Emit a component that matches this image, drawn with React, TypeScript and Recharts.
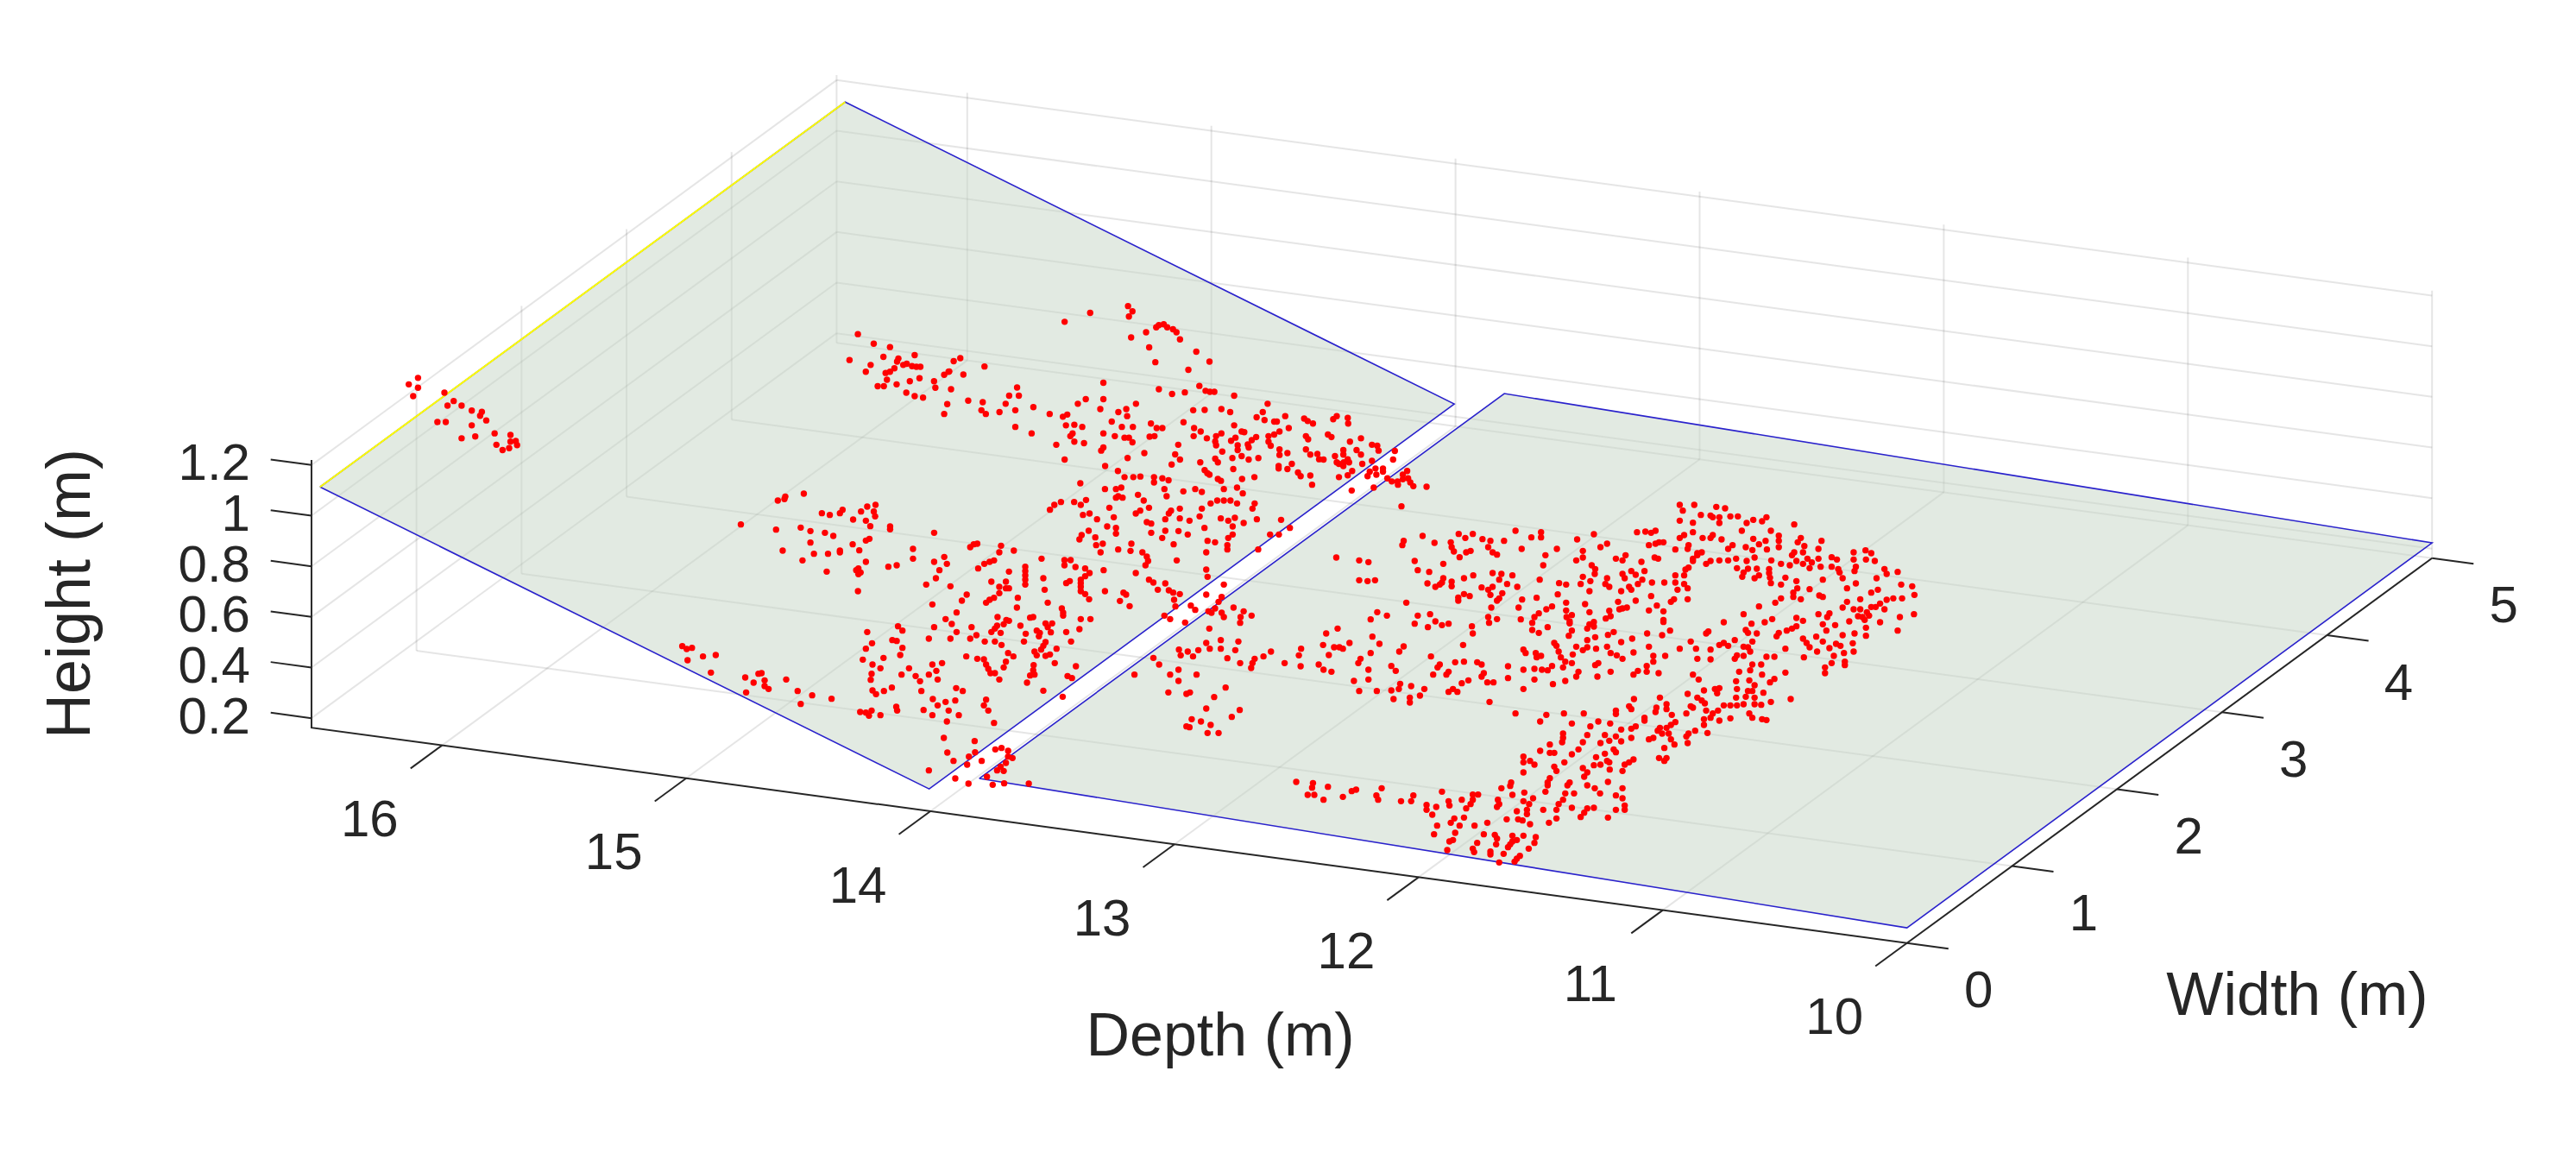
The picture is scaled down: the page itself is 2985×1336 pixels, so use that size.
import { Scatter, ScatterChart, XAxis, YAxis } from 'recharts'

// tick values of the three axes
const depthTicks = [10, 11, 12, 13, 14, 15, 16]
const widthTicks = [0, 1, 2, 3, 4, 5]
const heightTicks = [0.2, 0.4, 0.6, 0.8, 1, 1.2]

const depthMax = 16.535
const widthMax = 5
const heightMin = 0.1625
const heightMax = 1.22

// the two floor patches: [depth, width, height] corners
const rampCorners = [
  [16.5, 0, 1.118],
  [16.5, 5, 1.118],
  [14.005, 5, 0.25],
  [14.005, 0, 0.25],
]
const floorCorners = [
  [13.8, 0, 0.318],
  [13.8, 5, 0.318],
  [10, 5, 0.223],
  [10, 0, 0.223],
]

// red points, in view units of the source crop they were read from
const stragglerPoints = [
  [283,1058],[262,1079],[283,1090],[272,1117],[343,1106],[364,1133],[350,1148],[382,1148],[405,1164],[428,1168],[424,1181],[438,1196],[327,1201],[346,1201],[405,1212],[457,1238],[493,1243],[413,1248],[382,1254],[505,1263],[493,1265],[508,1276],[461,1275],[490,1286],[475,1292],
  [1282,916],[1318,947],[1355,958],[1411,984],[1340,990],[1263,1000],[1374,995],[1371,1005],[1311,1016],[1385,1016],[1393,1012],[1405,1020],[1415,1022],[1424,1022],[1300,1038],[1345,1042],[1355,1038],[1365,1027],[1488,1038],[1478,1048],[1348,1064],[1400,1069],[1422,1059],[1455,1069],[1327,1085],[1341,1085],[1370,1079],[1458,1090],[1392,1106],[1411,1117],[1430,1122],[1485,1143],[1478,1175],
]
const rampTopPoints = [
  [406,153],[416,170],[408,187],[320,175],[262,204],[476,215],[487,212],[470,222],[495,222],[508,228],[516,238],[524,261],[447,238],[413,255],[454,287],[561,301],[591,333],[468,335],[543,360],[25,322],[10,332],[80,349],[0,365],[32,375],[350,402],[154,417],[4,423],[568,412],[476,423],[582,428],[592,431],[602,431],[535,433],[506,438],[647,444],[136,444],[158,444],[350,455],[310,455],[43,460],[76,465],[128,470],[292,470],[424,470],[723,470],[191,481],[343,487],[402,487],[580,490],[618,487],[554,491],[73,491],[83,503],[114,497],[150,491],[384,497],[638,497],[712,497],[228,503],[268,505],[258,512],[404,510],[698,514],[716,523],[763,510],[806,518],[880,510],[872,520],[905,516],[906,534],[369,528],[532,530],[458,534],[738,528],[744,528],[826,534],[814,526],[265,540],[284,538],[302,545],[392,545],[417,545],[150,545],[484,549],[471,549],[556,549],[647,540],[771,549],[187,566],[350,566],[571,560],[618,566],[606,575],[664,560],[670,562],[750,560],[738,570],[725,575],[280,566],[275,575],[376,575],[398,580],[408,580],[416,595],[466,575],[455,577],[810,575],[815,585],[860,570],[868,578],[935,582],[910,593],[555,575],[585,582],[604,592],[640,590],[650,580],[697,578],[687,588],[678,602],[725,593],[730,606],[243,603],[284,593],[306,598],[520,603],[606,605],[655,605],[960,603],[972,606],[350,612],[345,622],[443,630],[655,620],[620,625],[680,612],[750,618],[768,630],[810,618],[750,636],[820,635],[836,633],[895,620],[925,620],[1012,623],[975,622],[513,634],[895,635],[935,635],[405,646],[524,651],[604,648],[643,646],[680,651],[702,646],[840,650],[850,651],[876,640],[1008,651],[262,651],[664,640],[905,650],[570,660],[610,660],[505,667],[880,660],[885,665],[896,660],[908,660],[938,665],[960,655],[778,665],[748,672],[748,680],[354,672],[895,672],[968,680],[985,680],[768,682],[645,682],[580,685],[586,695],[591,700],[792,693],[798,705],[383,688],[915,688],[1040,688],[955,690],[985,690],[1030,700],[820,703],[693,708],[885,708],[665,714],[398,708],[418,708],[434,706],[465,708],[484,712],[498,718],[465,725],[610,714],[617,720],[905,702],[950,705],[970,700],[995,712],[1005,722],[1018,722],[1030,715],[1042,712],[1047,725],
]
const rampLowPoints = [
  [336,36],[277,60],[294,46],[292,55],[193,143],[377,104],[395,110],[424,92],[418,104],[480,81],[499,75],[466,98],[495,98],[498,115],[448,126],[477,130],[487,149],[532,150],[532,160],[273,161],[329,154],[351,166],[384,172],[403,183],[632,172],[485,193],[477,199],[351,206],[447,212],[730,210],[722,212],[714,222],[784,217],[288,234],[359,245],[391,245],[418,234],[462,233],[584,228],[780,240],[813,234],[333,268],[418,240],[584,262],[655,256],[632,273],[661,280],[768,268],[758,273],[746,280],[477,273],[528,290],[547,285],[644,302],[732,296],[876,262],[928,267],[942,267],[928,285],[953,291],[975,296],[1017,302],[388,307],[460,296],[455,302],[465,310],[460,316],[802,307],[839,290],[839,305],[839,320],[839,335],[985,312],[975,323],[880,330],[636,330],[614,352],[669,358],[762,342],[795,342],[839,352],[780,360],[795,365],[802,365],[940,340],[932,347],[965,335],[965,347],[965,360],[883,370],[965,375],[975,385],[459,375],[706,387],[1020,375],[1062,380],[1068,387],[780,382],[822,398],[768,398],[758,405],[750,415],[984,403],[890,415],[695,408],[628,421],[1054,409],[1076,427],[820,432],[922,435],[925,450],[683,449],[658,472],[776,465],[796,475],[790,490],[802,478],[850,467],[857,465],[925,460],[965,472],[987,472],[672,489],[632,500],[717,500],[550,497],[560,512],[828,495],[885,487],[900,487],[890,500],[775,495],[770,505],[762,517],[480,517],[962,507],[683,517],[897,518],[865,512],[872,520],[932,517],[840,523],[783,520],[728,528],[870,532],[620,540],[669,540],[714,540],[537,545],[547,548],[491,556],[747,550],[770,550],[836,550],[943,550],[785,562],[885,552],[880,565],[560,572],[477,575],[910,575],[875,578],[705,602],[730,610],[745,612],[555,597],[860,585],[865,598],[800,590],[812,602],[885,600],[895,595],[470,613],[517,607],[795,620],[906,625],[492,630],[650,625],[628,630],[750,630],[510,643],[575,643],[755,645],[790,640],[858,632],[857,650],[954,636],[490,662],[558,665],[620,665],[637,652],[760,660],[770,660],[590,670],[850,668],[860,665],[640,682],[600,688],[488,683],[780,682],[935,670],[945,677],[843,693],[536,710],[492,720],[500,733],[518,722],[603,722],[682,712],[697,722],[880,721],[629,750],[658,760],[680,755],[750,752],[924,742],[640,772],[745,772],[546,777],[548,790],[608,788],[755,790],[464,795],[477,797],[490,790],[484,808],[510,806],[628,806],[665,790],[688,806],[661,828],[768,833],[654,885],[724,896],[662,936],[771,925],[785,920],[800,930],[810,955],[800,950],[725,935],[711,950],[676,965],[707,978],[740,965],[795,972],[783,985],[775,998],[790,1000],[620,998],[680,1026],[710,1044],[752,1020],[765,1048],[791,1043],[847,1044],
  [60,566],[70,576],[82,572],[72,615],[107,602],[136,597],[125,658],[203,675],[233,662],[240,660],[222,693],[247,685],[247,705],[256,715],[296,682],[205,727],[322,722],[355,737],[399,749],[329,767],
  [1290,352],[1250,387],[1285,395],[1278,412],[1270,435],[1215,425],[1225,440],[1180,428],[1155,460],[1168,472],[1202,484],[1250,300],[1253,325],[1140,370],[1157,348],[1165,372],[1175,380],[1190,385],[1177,405],[1120,335],[1130,345],[1090,312],[1115,255],[1118,270],[1112,285],[1105,240],[1183,268],[1250,240],[1255,445],[1262,450],[1285,450],[1290,465],[1312,432],[1335,445],[1353,460],[1328,465],[1327,485],[1257,505],
  [964,0],[1020,20],[1045,20],[1057,15],[1050,45],[1095,40],[1108,60],[1160,45],[1155,20],[1198,28],[1225,20],[1240,30],[1290,20],[1320,15],[1333,35],[1045,50],[1060,50],[950,65],[920,65],[905,75],[895,92],[965,75],[977,58],[1030,85],[1120,85],[1100,95],[1090,105],[1170,95],[1190,88],[1240,88],[1260,70],[1275,60],[1290,60],[1305,60],[1320,70],[1360,70],[1355,88],[1165,105],[985,105],[970,110],[1002,125],[1040,118],[1157,125],[1190,122],[1212,130],[1235,115],[1283,122],[1300,130],[1315,120],[1365,125],[1420,127],[1025,150],[1125,140],[1115,135],[1246,155],[1335,138],[1310,150],[1045,155],[1045,175],[983,165],[967,180],[962,195],[1125,172],[1157,165],[1187,166],[1208,178],[1310,178],[1300,190],[1395,178],[1415,178],[1440,155],[998,188],[1000,215],[1015,210],[1150,190],[1253,200],[1270,205],[1176,212],[1080,210],[1298,215],[1050,230],[1078,235],[1010,240],[1298,230],[1368,230],
  [1188,578],[1192,598],[1208,585],[1220,602],[1232,580],[1250,555],[1258,575],[1283,545],[1283,575],[1323,550],[1316,580],[1298,608],[1327,625],[1397,585],[1380,602],[1360,610],[1355,625],[1352,642],[1428,625],[1130,607],[1143,630],[1087,665],[1168,665],[1187,648],[1228,665],[1187,687],[1164,727],[1205,732],[1213,727],[1294,710],[1268,743],[1250,783],[1326,788],[1308,812],[1217,820],[1238,828],[1260,840],[1212,848],[1205,845],[1253,868],[1278,868],
]
const floorPoints = [
  [40,5],[130,25],[180,15],[235,5],[270,10],[300,12],[243,80],
  [875,75],[908,75],[882,95],[958,82],[978,87],[945,112],[965,118],[923,110],[990,115],[1007,115],[1042,127],[1072,118],[1062,132],[875,130],[905,137],[950,118],[965,138],[1027,138],[1135,143],[1016,165],[905,170],[502,165],[560,170],[373,176],[405,176],[388,190],[291,183],[778,170],[797,168],[820,165],[810,172],[680,177],[950,180],[1082,165],[885,180],[875,190],[927,190],[945,190],[970,195],[1100,182],[1042,193],[1150,190],[1100,200],[1070,200],[1197,200],[427,194],[476,200],[538,188],[560,188],[642,195],[248,200],[245,215],[318,207],[355,205],[445,200],[828,205],[805,215],[820,210],[838,205],[710,210],[695,222],[1055,212],[1143,205],[995,215],[1025,222],[985,228],[1040,232],[1073,230],[1100,222],[357,222],[440,222],[516,228],[596,228],[895,215],[893,228],[865,230],[1158,218],[362,237],[450,240],[400,235],[390,240],[655,235],[1190,228],[925,240],[915,243],[1135,240],[1155,240],[1130,250],[752,250],[460,248],[375,257],[570,250],[95,258],[655,258],[818,258],[826,262],[730,262],[745,268],[1045,258],[1003,262],[1027,270],[985,268],[965,268],[945,270],[905,262],[1270,240],[1297,233],[1310,243],[1220,257],[1232,265],[147,268],[168,274],[273,270],[640,268],[788,273],[338,280],[565,285],[1083,268],[1105,280],[1190,262],[1165,262],[1175,275],[1140,270],[1125,285],[1155,280],[1270,265],[1298,265],[1318,270],[935,280],[915,250],[905,270],[895,293],[888,300],[675,285],[1005,295],[1030,297],[1050,297],[1078,298],[1170,295],[1195,290],[1220,290],[1275,290],[1272,305],[683,298],[280,302],[1235,298],[1340,298],[1345,315],[1370,308],[306,308],[450,312],[470,315],[795,305],[765,305],[745,315],[775,318],[495,320],[406,320],[385,330],[750,330],[682,315],[1020,310],[1055,320],[1078,312],[1080,328],[1115,328],[1238,310],[1245,330],[1322,330],[655,325],[1017,325],[1045,330],[790,335],[885,320],[865,320],[1200,335],[147,337],[166,340],[183,337],[338,330],[320,360],[357,342],[302,348],[465,335],[557,335],[672,340],[710,330],[601,347],[617,352],[650,350],[780,350],[812,345],[840,345],[865,345],[885,350],[1082,347],[1105,352],[1140,340],[706,350],[715,360],[335,345],[330,352],[357,358],[483,350],[506,360],[450,360],[425,362],[440,370],[870,370],[893,365],[1170,368],[1142,365],[1275,348],[1255,365],[1378,352],[1403,358],[670,375],[742,375],[765,370],[760,360],[1325,370],[1310,380],[1408,388],[1133,380],[1133,395],[1192,390],[1200,395],[598,386],[472,382],[445,388],[385,385],[398,392],[372,397],[372,408],[1105,400],[1285,403],[1255,412],[810,392],[550,398],[517,404],[465,400],[460,408],[1360,400],[1345,405],[1380,400],[862,403],[855,412],[893,403],[1150,403],[1092,415],[1330,418],[1320,430],[254,415],[617,415],[660,420],[735,412],[775,408],[823,425],[745,435],[755,432],[1055,428],[1245,432],[1270,438],[1285,438],[1310,430],[1300,448],[1340,438],[447,432],[509,432],[585,428],[572,438],[617,442],[738,438],[188,448],[308,455],[805,442],[670,448],[715,443],[838,445],[555,452],[1020,455],[1190,455],[1215,452],[1210,465],[1280,462],[1290,465],[1305,460],[280,460],[210,460],[630,458],[718,462],[545,465],[173,473],[440,465],[460,472],[838,475],[838,482],[514,473],[618,465],[625,480],[1375,465],[1407,455],[1085,472],[1140,468],[1155,478],[1260,480],[1295,475],[975,483],[320,480],[350,488],[273,488],[335,493],[540,485],[707,470],[625,487],[680,482],[670,490],[1038,488],[1068,483],[1330,483],[1200,490],[1228,493],[442,485],[403,497],[303,500],[575,500],[680,498],[665,505],[1140,497],[1130,505],[1118,512],[1025,510],[1208,512],[1298,502],[1370,512],[98,505],[540,510],[555,520],[853,512],[630,512],[940,515],[935,522],[1030,520],[1050,522],[1100,520],[1095,532],[1245,528],[1272,522],[1298,530],[72,522],[405,522],[623,530],[725,517],[712,527],[801,522],[835,528],[177,533],[683,535],[767,540],[1185,533],[1155,540],[1200,550],[1163,555],[1040,550],[665,545],[742,552],[193,558],[125,555],[65,562],[383,562],[900,550],[975,555],[1000,545],[965,562],[985,565],[590,555],[595,565],[1230,558],[1240,565],[1268,556],[102,570],[110,575],[90,570],[248,567],[805,568],[710,568],[665,570],[685,575],[640,568],[655,580],[1115,575],[1170,570],[912,575],[945,578],[1020,568],[875,575],[1030,570],[1035,585],[1187,585],[1215,573],[1248,590],[1270,585],[15,575],[520,578],[525,590],[548,590],[600,585],[632,595],[718,590],[732,598],[770,588],[238,585],[173,590],[78,597],[10,598],[842,600],[1005,598],[1020,600],[1225,600],[310,602],[550,605],[560,600],[605,605],[745,610],[1000,610],[1072,603],[1090,603],[915,610],[945,612],[150,610],[815,600],[815,620],[1157,605],[1220,625],[1250,620],[1250,632],[145,625],[220,635],[55,630],[630,625],[615,620],[690,625],[683,632],[800,635],[1040,630],[1060,630],[14,636],[330,630],[385,620],[365,622],[415,622],[425,630],[485,636],[520,648],[545,645],[562,648],[585,635],[575,650],[610,640],[66,648],[84,655],[168,648],[230,652],[1010,655],[1035,650],[1205,640],[1205,660],[325,640],[350,655],[315,665],[345,665],[430,660],[645,655],[718,655],[780,652],[800,655],[827,660],[1062,665],[1115,658],[425,672],[485,677],[640,672],[688,672],[770,665],[905,665],[918,682],[1090,680],[1080,692],[1003,688],[1033,685],[168,682],[135,687],[452,692],[438,692],[545,682],[615,687],[587,698],[395,685],[380,695],[1045,702],[240,697],[265,705],[295,715],[220,720],[237,715],[187,722],[147,722],[360,715],[350,725],[370,725],[520,715],[955,715],[965,712],[930,720],[1005,715],[1030,722],[1040,722],[893,732],[1065,728],[225,750],[262,745],[285,738],[262,762],[443,760],[1025,742],[915,745],[925,755],[1045,745],[960,730],[1003,745],[771,750],[830,745],[1127,750],[932,765],[900,775],[1060,770],[1082,760],[1045,768],[1020,768],[1005,772],[990,772],[975,772],[760,775],[730,790],[730,802],[765,785],[822,780],[845,768],[820,795],[502,800],[572,805],[612,800],[657,800],[890,800],[905,780],[845,785],[962,790],[950,800],[935,790],[857,805],[1033,800],[1040,815],[1062,820],[1072,823],[990,817],[945,815],[930,820],[965,825],[795,815],[795,825],[558,828],[630,835],[690,828],[717,835],[672,845],[865,830],[855,840],[930,840],[775,845],[765,853],[742,856],[830,850],[845,850],[825,860],[835,870],[610,870],[705,875],[730,880],[765,885],[850,870],[910,860],[895,870],[890,880],[938,868],[815,885],[805,890],[610,885],[608,900],[665,875],[655,900],[695,903],[715,895],[742,897],[855,890],[863,908],[893,903],[840,920],[580,908],[645,925],[558,930],[580,937],[590,937],[630,942],[725,925],[730,935],[520,950],[705,940],[685,952],[770,960],[520,970],[535,965],[545,978],[613,970],[710,965],[760,970],[750,978],[828,955],[845,955],[840,965],[680,980],[695,978],[715,970],[745,1000],[716,995],[590,985],[595,1000],[520,1005],[655,990],[665,1005],[658,1020],[580,1025],[575,1040],[575,1050],[492,1040],[490,1052],[625,1040],[620,1050],[665,1050],[712,1038],[470,1060],[682,1060],[745,1060],[4,1038],[42,1042],[40,1058],[76,1055],[140,1065],[130,1070],[198,1060],[30,1083],[45,1083],[110,1090],[66,1100],[186,1085],[190,1100],[242,1105],[270,1085],[265,1105],[335,1072],[570,1072],[615,1078],[635,1078],[694,1078],[405,1082],[417,1082],[522,1075],[495,1083],[380,1100],[405,1100],[350,1105],[462,1100],[300,1118],[322,1125],[352,1120],[400,1115],[390,1130],[465,1115],[460,1125],[520,1105],[542,1095],[533,1115],[610,1100],[600,1115],[745,1095],[730,1085],[750,1120],[730,1135],[630,1128],[680,1128],[665,1130],[750,1135],[300,1135],[313,1152],[565,1135],[595,1135],[658,1145],[528,1135],[505,1140],[650,1160],[712,1162],[595,1165],[363,1165],[385,1162],[482,1168],[508,1168],[518,1172],[528,1150],[355,1180],[375,1190],[324,1190],[409,1190],[535,1185],[578,1180],[438,1180],[317,1220],[365,1215],[430,1220],[455,1222],[520,1225],[548,1230],[495,1225],[460,1235],[360,1240],[352,1245],[495,1245],[505,1240],[490,1255],[545,1250],[458,1255],[415,1250],[485,1265],[405,1270],[532,1270],[445,1280],[408,1282],[347,1275],[512,1295],[475,1288],[505,1305],[500,1315],[465,1318],[445,1290],
]

// the crop each reading list belongs to: origin and zoom in the view plane
const fromCrop = (list: number[][], x0: number, y0: number, sx: number, sy: number) =>
  list.map(([px, py]) => ({ viewX: x0 + px / sx, viewY: y0 + py / sy }))

const cloudData = [
  ...fromCrop(stragglerPoints, 340, 60, 1.96, 2.8),
  ...fromCrop(rampTopPoints, 1100, 300, 1.96, 2.8),
  ...fromCrop(rampLowPoints, 760, 560, 1.96, 3),
  ...fromCrop(floorPoints, 1500, 560, 1.96, 3),
]

// orthographic view of the 3D axes box
const project = (depth: number, width: number, height: number) => ({
  viewX: 2209.7 - 282.9 * (depth - 10) + 121.7 * width,
  viewY: 1092.8 - 38.2 * (depth - 10) - 89.2 * width - 293.3 * (height - heightMin),
})

type P3 = number[]
const path = (...pts: P3[]) => pts.map(([d, w, h]) => project(d, w, h))

const gridPaths = [
  // floor
  ...widthTicks.slice(1).map((w) => path([10, w, heightMin], [depthMax, w, heightMin])),
  ...depthTicks.slice(1).map((d) => path([d, 0, heightMin], [d, widthMax, heightMin])),
  // left wall
  ...widthTicks.slice(1).map((w) => path([depthMax, w, heightMin], [depthMax, w, heightMax])),
  ...heightTicks.map((h) => path([depthMax, 0, h], [depthMax, widthMax, h])),
  // back wall
  ...depthTicks.map((d) => path([d, widthMax, heightMin], [d, widthMax, heightMax])),
  ...heightTicks.map((h) => path([10, widthMax, h], [depthMax, widthMax, h])),
]

const axisPaths = [
  path([depthMax, 0, heightMax], [depthMax, 0, heightMin], [10, 0, heightMin], [10, widthMax, heightMin]),
  ...heightTicks.map((h) => path([depthMax, 0, h], [depthMax + 0.167, 0, h])),
  ...depthTicks.map((d) => path([d, 0, heightMin], [d, -0.3, heightMin])),
  ...widthTicks.map((w) => path([10, w, heightMin], [9.83, w, heightMin])),
]

const shift = (p: { viewX: number; viewY: number }, dx: number, dy: number) => ({
  viewX: p.viewX + dx,
  viewY: p.viewY + dy,
})

const labelData = [
  ...heightTicks.map((h) => ({
    ...shift(project(depthMax, 0, h), -71, -3),
    text: String(h),
    anchor: 'end',
    size: 60,
  })),
  ...depthTicks.map((d) => ({
    ...shift(project(d, 0, heightMin), -84, 85),
    text: String(d),
    anchor: 'middle',
    size: 60,
  })),
  ...widthTicks.map((w) => ({
    ...shift(project(10, w, heightMin), 83, 54),
    text: String(w),
    anchor: 'middle',
    size: 60,
  })),
  { viewX: 2662, viewY: 1152, text: 'Width (m)', anchor: 'middle', size: 70 },
  { viewX: 1414, viewY: 1199, text: 'Depth (m)', anchor: 'middle', size: 70 },
  { viewX: 79, viewY: 688, text: 'Height (m)', anchor: 'middle', size: 72, rotate: -90 },
]

const NoDot = () => <g />

const RedDot = ({ cx, cy }: any) => <circle cx={cx} cy={cy} r={3.7} fill="#ff0000" />

const AxisLabel = ({ cx, cy, payload }: any) => (
  <text
    x={cx}
    y={cy}
    textAnchor={payload.anchor}
    dominantBaseline="central"
    fontFamily="'Liberation Sans', Arial, sans-serif"
    fontSize={payload.size}
    fill="#262626"
    transform={payload.rotate ? `rotate(${payload.rotate} ${cx} ${cy})` : undefined}
  >
    {payload.text}
  </text>
)

const planeLine = { stroke: '#2a22cc', strokeWidth: 1.6, fill: '#c6d5c6', fillOpacity: 0.5 }

export default function App() {
  return (
    <div style={{ position: 'absolute', left: 0, top: 0, width: 2985, height: 1336, background: '#fff' }}>
      <ScatterChart width={2985} height={1336} margin={{ top: 0, right: 0, bottom: 0, left: 0 }}>
        <XAxis type="number" dataKey="viewX" domain={[0, 2985]} hide />
        <YAxis type="number" dataKey="viewY" domain={[0, 1336]} reversed hide />

        {gridPaths.map((pts, i) => (
          <Scatter
            key={`grid-${i}`}
            data={pts}
            shape={NoDot}
            line={{ stroke: '#262626', strokeOpacity: 0.12, strokeWidth: 2 }}
            isAnimationActive={false}
          />
        ))}
        {axisPaths.map((pts, i) => (
          <Scatter
            key={`axis-${i}`}
            data={pts}
            shape={NoDot}
            line={{ stroke: '#262626', strokeWidth: 2 }}
            isAnimationActive={false}
          />
        ))}

        <Scatter
          data={path(...rampCorners, rampCorners[0])}
          shape={NoDot}
          line={planeLine}
          isAnimationActive={false}
        />
        <Scatter
          data={path(...floorCorners, floorCorners[0])}
          shape={NoDot}
          line={planeLine}
          isAnimationActive={false}
        />
        <Scatter
          data={path(rampCorners[0], rampCorners[1])}
          shape={NoDot}
          line={{ stroke: '#ffff00', strokeWidth: 2 }}
          isAnimationActive={false}
        />

        <Scatter data={cloudData} shape={RedDot} isAnimationActive={false} />
        <Scatter data={labelData} shape={AxisLabel} isAnimationActive={false} />
      </ScatterChart>
    </div>
  )
}
